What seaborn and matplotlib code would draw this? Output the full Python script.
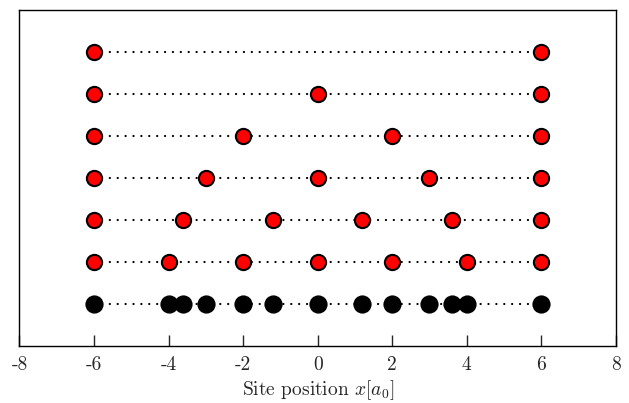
import numpy as np
import pandas as pd
import matplotlib
matplotlib.use("Agg")
import matplotlib.pyplot as plt
import seaborn as sns

sns.set_style("ticks")
plt.rcParams["font.family"] = ["cmr10", "DejaVu Serif"]
plt.rcParams["mathtext.fontset"] = "cm"
plt.rcParams["axes.unicode_minus"] = False
plt.rcParams["axes.formatter.use_mathtext"] = True

# Site positions for lattices with 1..6 equal spacings between x=-6 and x=6
grid_1 = [-6, 6]
grid_2 = [-6, 0, 6]
grid_3 = [-6, -2, 2, 6]
grid_4 = [-6, -3, 0, 3, 6]
grid_5 = [-6, -3.6, -1.2, 1.2, 3.6, 6]
grid_6 = [-6, -4, -2, 0, 2, 4, 6]
grids = [grid_1, grid_2, grid_3, grid_4, grid_5, grid_6]
row_levels = [6, 5, 4, 3, 2, 1]
union_level = 0
x_ticks = [-8, -6, -4, -2, 0, 2, 4, 6, 8]

# Union of all site positions
union_sites = sorted(set(v for g in grids for v in g))

records = []
for level, g in zip(row_levels, grids):
    for v in g:
        records.append({"row": level, "x": v})
df = pd.DataFrame(records)
df_union = pd.DataFrame({"row": union_level, "x": union_sites})

fig, ax = plt.subplots(figsize=(6.29, 4.03), dpi=100)
fig.subplots_adjust(left=0.031, right=0.979, top=0.975, bottom=0.141)

# round dots: near-zero dash length with round caps
dots = (0, (0.05, 3.5))
all_rows = pd.concat([df, df_union], ignore_index=True)
sns.lineplot(data=all_rows, x="x", y="row", units="row", estimator=None,
             color="black", lw=1.6, sort=True, ax=ax,
             zorder=1, legend=False)
for line in ax.lines:
    line.set_linestyle(dots)
    line.set_dash_capstyle("round")

sns.scatterplot(data=df, x="x", y="row", color="red", edgecolor="black",
                linewidth=1.5, s=120, ax=ax, zorder=3, legend=False)
sns.scatterplot(data=df_union, x="x", y="row", color="black", edgecolor="black",
                linewidth=0, s=172, ax=ax, zorder=3, legend=False)

ax.set_xlim(-8, 8)
ax.set_ylim(-1, 7)
ax.set_xticks(x_ticks)
ax.set_xticklabels([str(t) for t in x_ticks])
ax.set_yticks([])
ax.tick_params(axis="x", direction="in", length=8, width=1, labelsize=14,
               pad=7, top=False)
for sp in ax.spines.values():
    sp.set_linewidth(1.0)
    sp.set_color("black")
ax.set_xlabel(r"Site position $x[a_0]$", fontsize=14, labelpad=3)
ax.set_ylabel("")

fig.savefig("out.png", dpi=100)
